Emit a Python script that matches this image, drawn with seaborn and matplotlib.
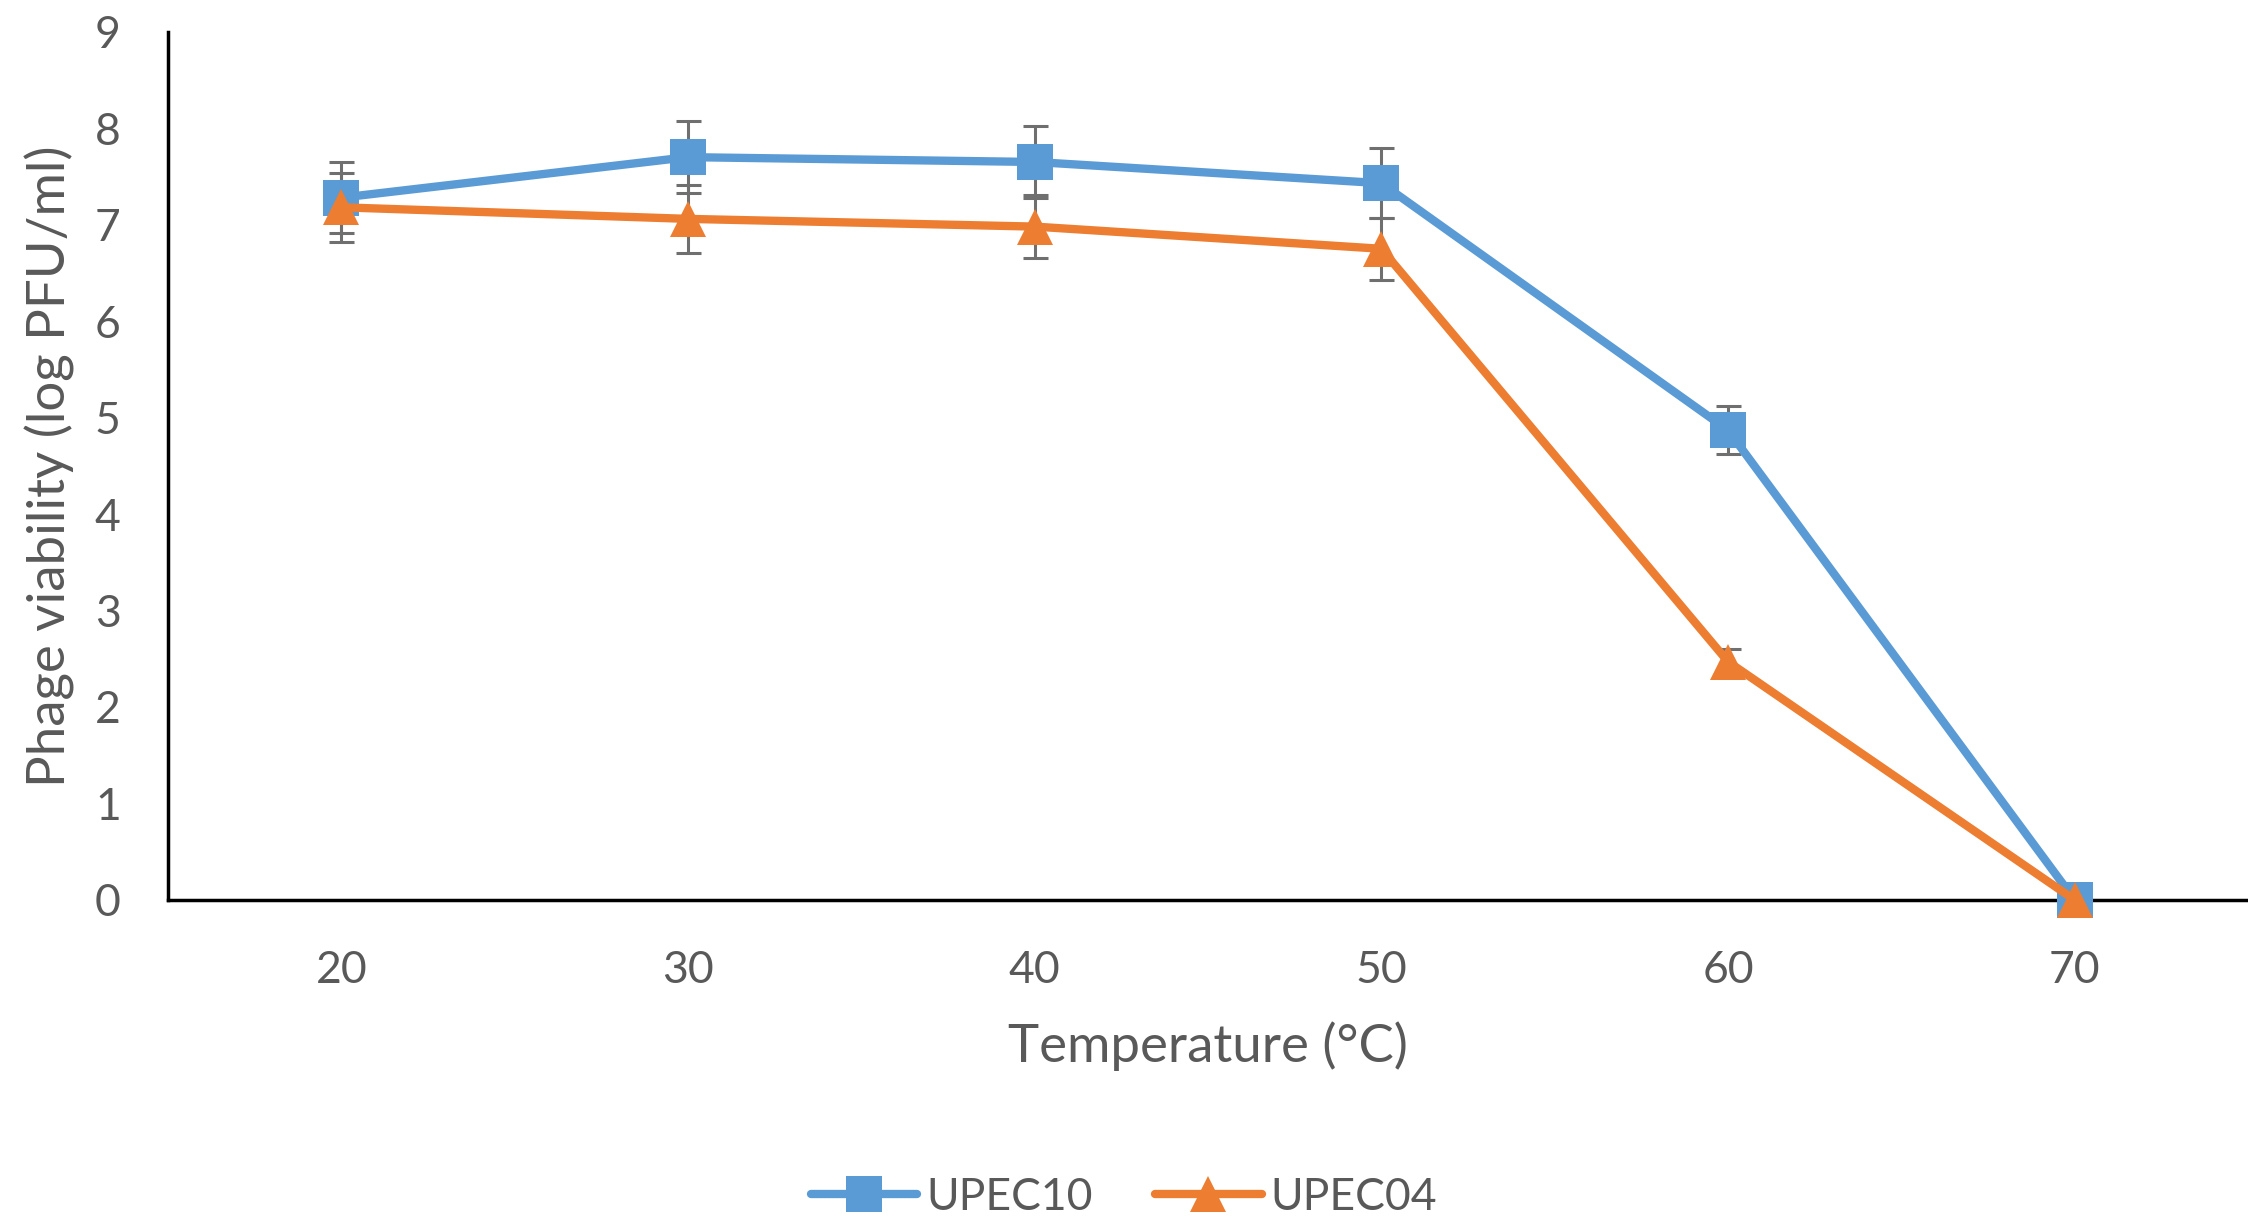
import matplotlib
matplotlib.use("Agg")
import matplotlib.pyplot as plt
import seaborn as sns
import pandas as pd
import numpy as np
from matplotlib.lines import Line2D

temperature = [20, 30, 40, 50, 60, 70]
upec10 = [7.28, 7.70, 7.65, 7.43, 4.87, 0.0]
upec10_err = [0.37, 0.37, 0.37, 0.36, 0.25, 0.0]
upec04 = [7.18, 7.06, 6.98, 6.75, 2.47, 0.0]
upec04_err = [0.36, 0.35, 0.33, 0.32, 0.13, 0.0]
series_names = ["UPEC10", "UPEC04"]
y_ticks = [0, 1, 2, 3, 4, 5, 6, 7, 8, 9]

BLUE = "#5B9BD5"
ORANGE = "#ED7D31"
TEXT = "#595959"
ERR = "#6f6f6f"

sns.set_theme(style="white")
plt.rcParams["font.family"] = ["Lato", "DejaVu Sans"]

df = pd.DataFrame({
    "Temperature": temperature * 2,
    "Value": upec10 + upec04,
    "Series": [series_names[0]] * 6 + [series_names[1]] * 6,
})

fig = plt.figure(figsize=(22.48, 12.21), dpi=100)
ax = fig.add_axes([0.0747, 0.263, 0.9253, 0.711])

# error bars (behind)
ax.errorbar(temperature, upec10, yerr=upec10_err, fmt="none", ecolor=ERR,
            elinewidth=2.2, capsize=9, capthick=2.2, zorder=2)
ax.errorbar(temperature, upec04, yerr=upec04_err, fmt="none", ecolor=ERR,
            elinewidth=2.2, capsize=9, capthick=2.2, zorder=2)

sns.lineplot(data=df, x="Temperature", y="Value", hue="Series", style="Series",
             palette={"UPEC10": BLUE, "UPEC04": ORANGE},
             markers={"UPEC10": "s", "UPEC04": "^"}, dashes=False,
             linewidth=6, markersize=26, markeredgewidth=0,
             ax=ax, legend=False, zorder=3)

ax.set_xlim(15, 75)
ax.set_ylim(0, 9)
ax.set_xticks(temperature)
ax.set_yticks(y_ticks)
ax.tick_params(axis="both", length=0, labelsize=32, colors=TEXT)
ax.tick_params(axis="x", pad=36)
ax.tick_params(axis="y", pad=34)
for s in ["top", "right"]:
    ax.spines[s].set_visible(False)
for s in ["left", "bottom"]:
    ax.spines[s].set_color("black")
    ax.spines[s].set_linewidth(2.5)
for l in ax.get_lines():
    l.set_clip_on(False)

ax.set_xlabel("Temperature (°C)", fontsize=38, color=TEXT, labelpad=22)
ax.set_ylabel("Phage viability (log PFU/ml)", fontsize=38, color=TEXT, labelpad=14)

handles = [
    Line2D([0], [0], color=BLUE, lw=6, marker="s", markersize=26, markeredgewidth=0),
    Line2D([0], [0], color=ORANGE, lw=6, marker="^", markersize=26, markeredgewidth=0),
]
leg = fig.legend(handles, series_names, loc="lower center", bbox_to_anchor=(0.5, -0.03),
                 ncol=2, frameon=False, fontsize=32, handlelength=2.4,
                 columnspacing=1.4, handletextpad=0.2)
for t in leg.get_texts():
    t.set_color(TEXT)

fig.savefig("out.png", dpi=100)
